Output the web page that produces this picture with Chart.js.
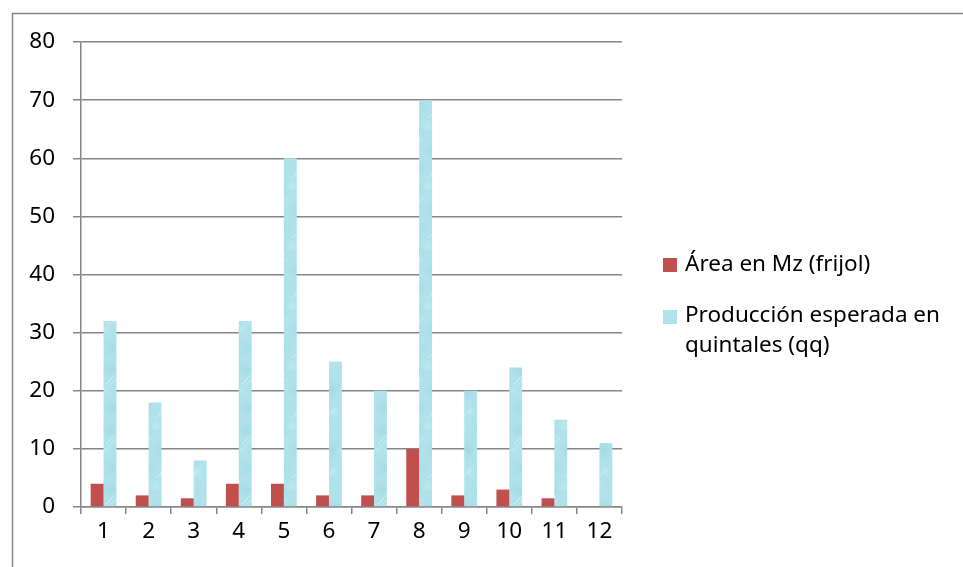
<!DOCTYPE html>
<html><head><meta charset="utf-8">
<script src="https://cdn.jsdelivr.net/npm/chart.js@4/dist/chart.umd.min.js"></script>
<style>html,body{margin:0;padding:0;background:#fff}#wrap{width:963px;height:567px;position:relative;overflow:hidden}</style>
</head><body><div id="wrap"><canvas id="c" width="963" height="567"></canvas></div>
<script>
const categories = ['1','2','3','4','5','6','7','8','9','10','11','12'];
const areaMz = [4, 2, 1.5, 4, 4, 2, 2, 10, 2, 3, 1.5, 0];
const produccion = [32, 18, 8, 32, 60, 25, 20, 70, 20, 24, 15, 11];
const yTickValues = [0, 10, 20, 30, 40, 50, 60, 70, 80];
const seriesLabels = [['Área en Mz (frijol)'], ['Producción esperada en', 'quintales (qq)']];

const FONT = {family: "'Noto Sans', sans-serif", size: 22.5};
const GRID = '#868686';
const RED = '#c0504d';

function makeWaterPattern(ctx) {
  const W = 34, H = 60;
  const p = document.createElement('canvas');
  p.width = W; p.height = H;
  const g = p.getContext('2d');
  g.fillStyle = '#afe2eb';
  g.fillRect(0, 0, W, H);
  const blobs = [
    [8, 10, 12, 9, 'rgba(140,200,213,0.35)'],
    [26, 30, 13, 10, 'rgba(138,198,212,0.35)'],
    [10, 48, 12, 9, 'rgba(142,202,215,0.3)'],
    [28, 52, 9, 6, 'rgba(205,242,247,0.45)'],
    [20, 6, 9, 5, 'rgba(208,244,248,0.45)'],
    [4, 30, 8, 6, 'rgba(205,242,247,0.4)']
  ];
  for (const [x, y, rx, ry, c] of blobs) {
    for (const dx of [-W, 0, W]) for (const dy of [-H, 0, H]) {
      const gr = g.createRadialGradient(x + dx, y + dy, 0, x + dx, y + dy, Math.max(rx, ry));
      gr.addColorStop(0, c);
      gr.addColorStop(1, 'rgba(175,226,235,0)');
      g.fillStyle = gr;
      g.beginPath(); g.ellipse(x + dx, y + dy, rx, ry, 0, 0, Math.PI * 2); g.fill();
    }
  }
  g.strokeStyle = 'rgba(225,250,252,0.55)';
  g.lineWidth = 1;
  g.beginPath(); g.moveTo(4, 24); g.lineTo(13, 15); g.moveTo(7, 26); g.lineTo(15, 18);
  g.moveTo(20, 58); g.lineTo(29, 49); g.stroke();
  return ctx.createPattern(p, 'repeat');
}

const canvas = document.getElementById('c');
const ctx0 = canvas.getContext('2d');
const BLUE = makeWaterPattern(ctx0);

const frame = {
  id: 'frame',
  beforeDraw(chart) {
    const c = chart.ctx;
    c.save();
    c.fillStyle = '#fff';
    c.fillRect(0, 0, chart.width, chart.height);
    c.strokeStyle = GRID;
    c.lineWidth = 1.5;
    c.strokeRect(12.5, 13.5, 2000, 2000);
    c.restore();
  }
};

const sideLegend = {
  id: 'sideLegend',
  afterDraw(chart) {
    const c = chart.ctx;
    c.save();
    c.font = FONT.size + 'px ' + FONT.family;
    c.textBaseline = 'middle';
    const entries = [
      {fill: RED, top: 258, lines: seriesLabels[0], first: 265},
      {fill: BLUE, top: 310, lines: seriesLabels[1], first: 316}
    ];
    for (const e of entries) {
      c.fillStyle = e.fill;
      c.fillRect(663, e.top, 14, 14);
      c.fillStyle = '#000';
      e.lines.forEach((t, i) => c.fillText(t, 685, e.first + i * 30));
    }
    c.restore();
  }
};

new Chart(canvas, {
  type: 'bar',
  data: {
    labels: categories,
    datasets: [
      {label: seriesLabels[0].join(' '), data: areaMz, backgroundColor: RED, borderWidth: 0},
      {label: seriesLabels[1].join(' '), data: produccion, backgroundColor: BLUE, borderWidth: 0}
    ]
  },
  options: {
    responsive: false,
    animation: false,
    devicePixelRatio: 1,
    layout: {padding: {left: 0, right: 341, top: 42, bottom: 0}},
    datasets: {bar: {categoryPercentage: 0.571, barPercentage: 1}},
    plugins: {legend: {display: false}, tooltip: {enabled: false}},
    scales: {
      x: {
        grid: {drawOnChartArea: false, drawTicks: true, tickLength: 7, color: GRID, lineWidth: 1.5, offset: true},
        border: {color: GRID, width: 1.5},
        ticks: {font: FONT, color: '#000', padding: 4, maxRotation: 0, autoSkip: false},
        afterFit(s) { s.height = 60; }
      },
      y: {
        min: 0, max: 80,
        afterBuildTicks(s) { s.ticks = yTickValues.map(v => ({value: v})); },
        grid: {color: GRID, lineWidth: 1.5, tickLength: 8, drawTicks: true},
        border: {color: GRID, width: 1.5},
        ticks: {font: FONT, color: '#000', padding: 18},
        afterFit(s) { s.width = 81; }
      }
    }
  },
  plugins: [frame, sideLegend]
});
</script></body></html>
